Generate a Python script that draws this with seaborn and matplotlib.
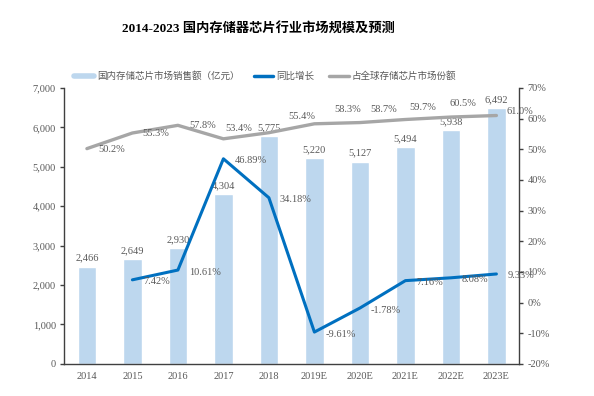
import numpy as np
import pandas as pd
import matplotlib
matplotlib.use('Agg')
import matplotlib.pyplot as plt
from matplotlib.lines import Line2D
import seaborn as sns

years = ['2014', '2015', '2016', '2017', '2018', '2019E', '2020E', '2021E', '2022E', '2023E']
sales = [2466, 2649, 2930, 4304, 5775, 5220, 5127, 5494, 5938, 6492]
growth = [np.nan, 7.42, 10.61, 46.89, 34.18, -9.61, -1.78, 7.16, 8.08, 9.33]
share = [50.2, 55.3, 57.8, 53.4, 55.4, 58.3, 58.7, 59.7, 60.5, 61.0]

# label offsets (pixels) for the share line, as placed in the original
share_dx = [25, 23, 25, 15, 33, 33, 24, 17, 12, 23]
share_dy = [-1, -1, 0, 10, 16, 14, 13, 12, 14, 4]

sns.set_style('white')
plt.rcParams['font.family'] = ['Liberation Serif', 'Noto Sans CJK SC']
plt.rcParams['axes.unicode_minus'] = False

bar_c = '#BDD7EE'
blue_c = '#0070C0'
gray_c = '#A6A6A6'
txt_c = '#595959'

df = pd.DataFrame({'year': years, 'pos': np.arange(len(years)), 'sales': sales,
                   'growth': growth, 'share': share})

fig = plt.figure(figsize=(5.94, 3.96), dpi=100)
ax = fig.add_axes([0.108, 0.081, 0.766, 0.697])
sns.barplot(data=df, x='year', y='sales', color=bar_c, width=0.4, saturation=1, ax=ax)
ax.set_ylim(0, 7000)
ax.set_xlim(-0.5, 9.5)
ax.set_yticks(range(0, 7001, 1000))
ax.set_yticklabels([f'{v:,}' for v in range(0, 7001, 1000)])
ax.set_xlabel('')
ax.set_ylabel('')

for i, v in enumerate(sales):
    ax.annotate(f'{v:,}', (i, v), xytext=(0, 4), textcoords='offset pixels',
                ha='center', va='bottom', fontsize=7.5, color=txt_c)

ax2 = ax.twinx()
sns.lineplot(data=df, x='pos', y='share', color=gray_c, lw=2.4, ax=ax2)
sns.lineplot(data=df, x='pos', y='growth', color=blue_c, lw=2.2, ax=ax2)
ax2.set_ylim(-20, 70)
ax2.set_xlim(-0.5, 9.5)
ax2.set_yticks(range(-20, 71, 10))
ax2.set_yticklabels([f'{v}%' for v in range(-20, 71, 10)])
ax2.set_xlabel('')
ax2.set_ylabel('')

for i, v in enumerate(share):
    ax2.annotate(f'{v:.1f}%', (i, v), xytext=(share_dx[i], share_dy[i]),
                 textcoords='offset pixels', ha='center', va='center',
                 fontsize=7.5, color=txt_c)

for i, v in enumerate(growth):
    if np.isnan(v):
        continue
    ax2.annotate(f'{v:.2f}%', (i, v), xytext=(11, -2), textcoords='offset pixels',
                 ha='left', va='center', fontsize=7.5, color=txt_c)

for a in (ax, ax2):
    a.spines['top'].set_visible(False)
    for s in ('left', 'right', 'bottom'):
        a.spines[s].set_color('#404040')
        a.spines[s].set_linewidth(1.0)
    a.tick_params(axis='y', direction='out', length=3, width=1, color='#404040',
                  labelsize=7.5, labelcolor=txt_c, pad=3)
    a.grid(False)
ax.spines['right'].set_visible(False)
ax2.spines['left'].set_visible(False)
ax2.spines['bottom'].set_visible(False)

ax.set_xticks(np.arange(-0.5, 10, 1), minor=True)
ax.tick_params(axis='x', which='major', length=0, labelsize=7.5, labelcolor=txt_c, pad=6)
ax.tick_params(axis='x', which='minor', direction='out', length=3, width=1, color='#404040')

fig.text(0.435, 0.925, '2014-2023 国内存储器芯片行业市场规模及预测', ha='center', va='center',
         fontsize=9.5, fontweight='bold', color='black')

handles = [Line2D([], [], color=bar_c, lw=4),
           Line2D([], [], color=blue_c, lw=2.5),
           Line2D([], [], color=gray_c, lw=2.5)]
labels = ['国内存储芯片市场销售额（亿元）', '同比增长', '占全球存储芯片市场份额']
fig.legend(handles, labels, loc='center', bbox_to_anchor=(0.446, 0.808), ncol=3,
           frameon=False, fontsize=6.85, handlelength=2.1, columnspacing=1.5,
           handletextpad=0.3, labelcolor=txt_c)

fig.savefig('out.png', dpi=100)
